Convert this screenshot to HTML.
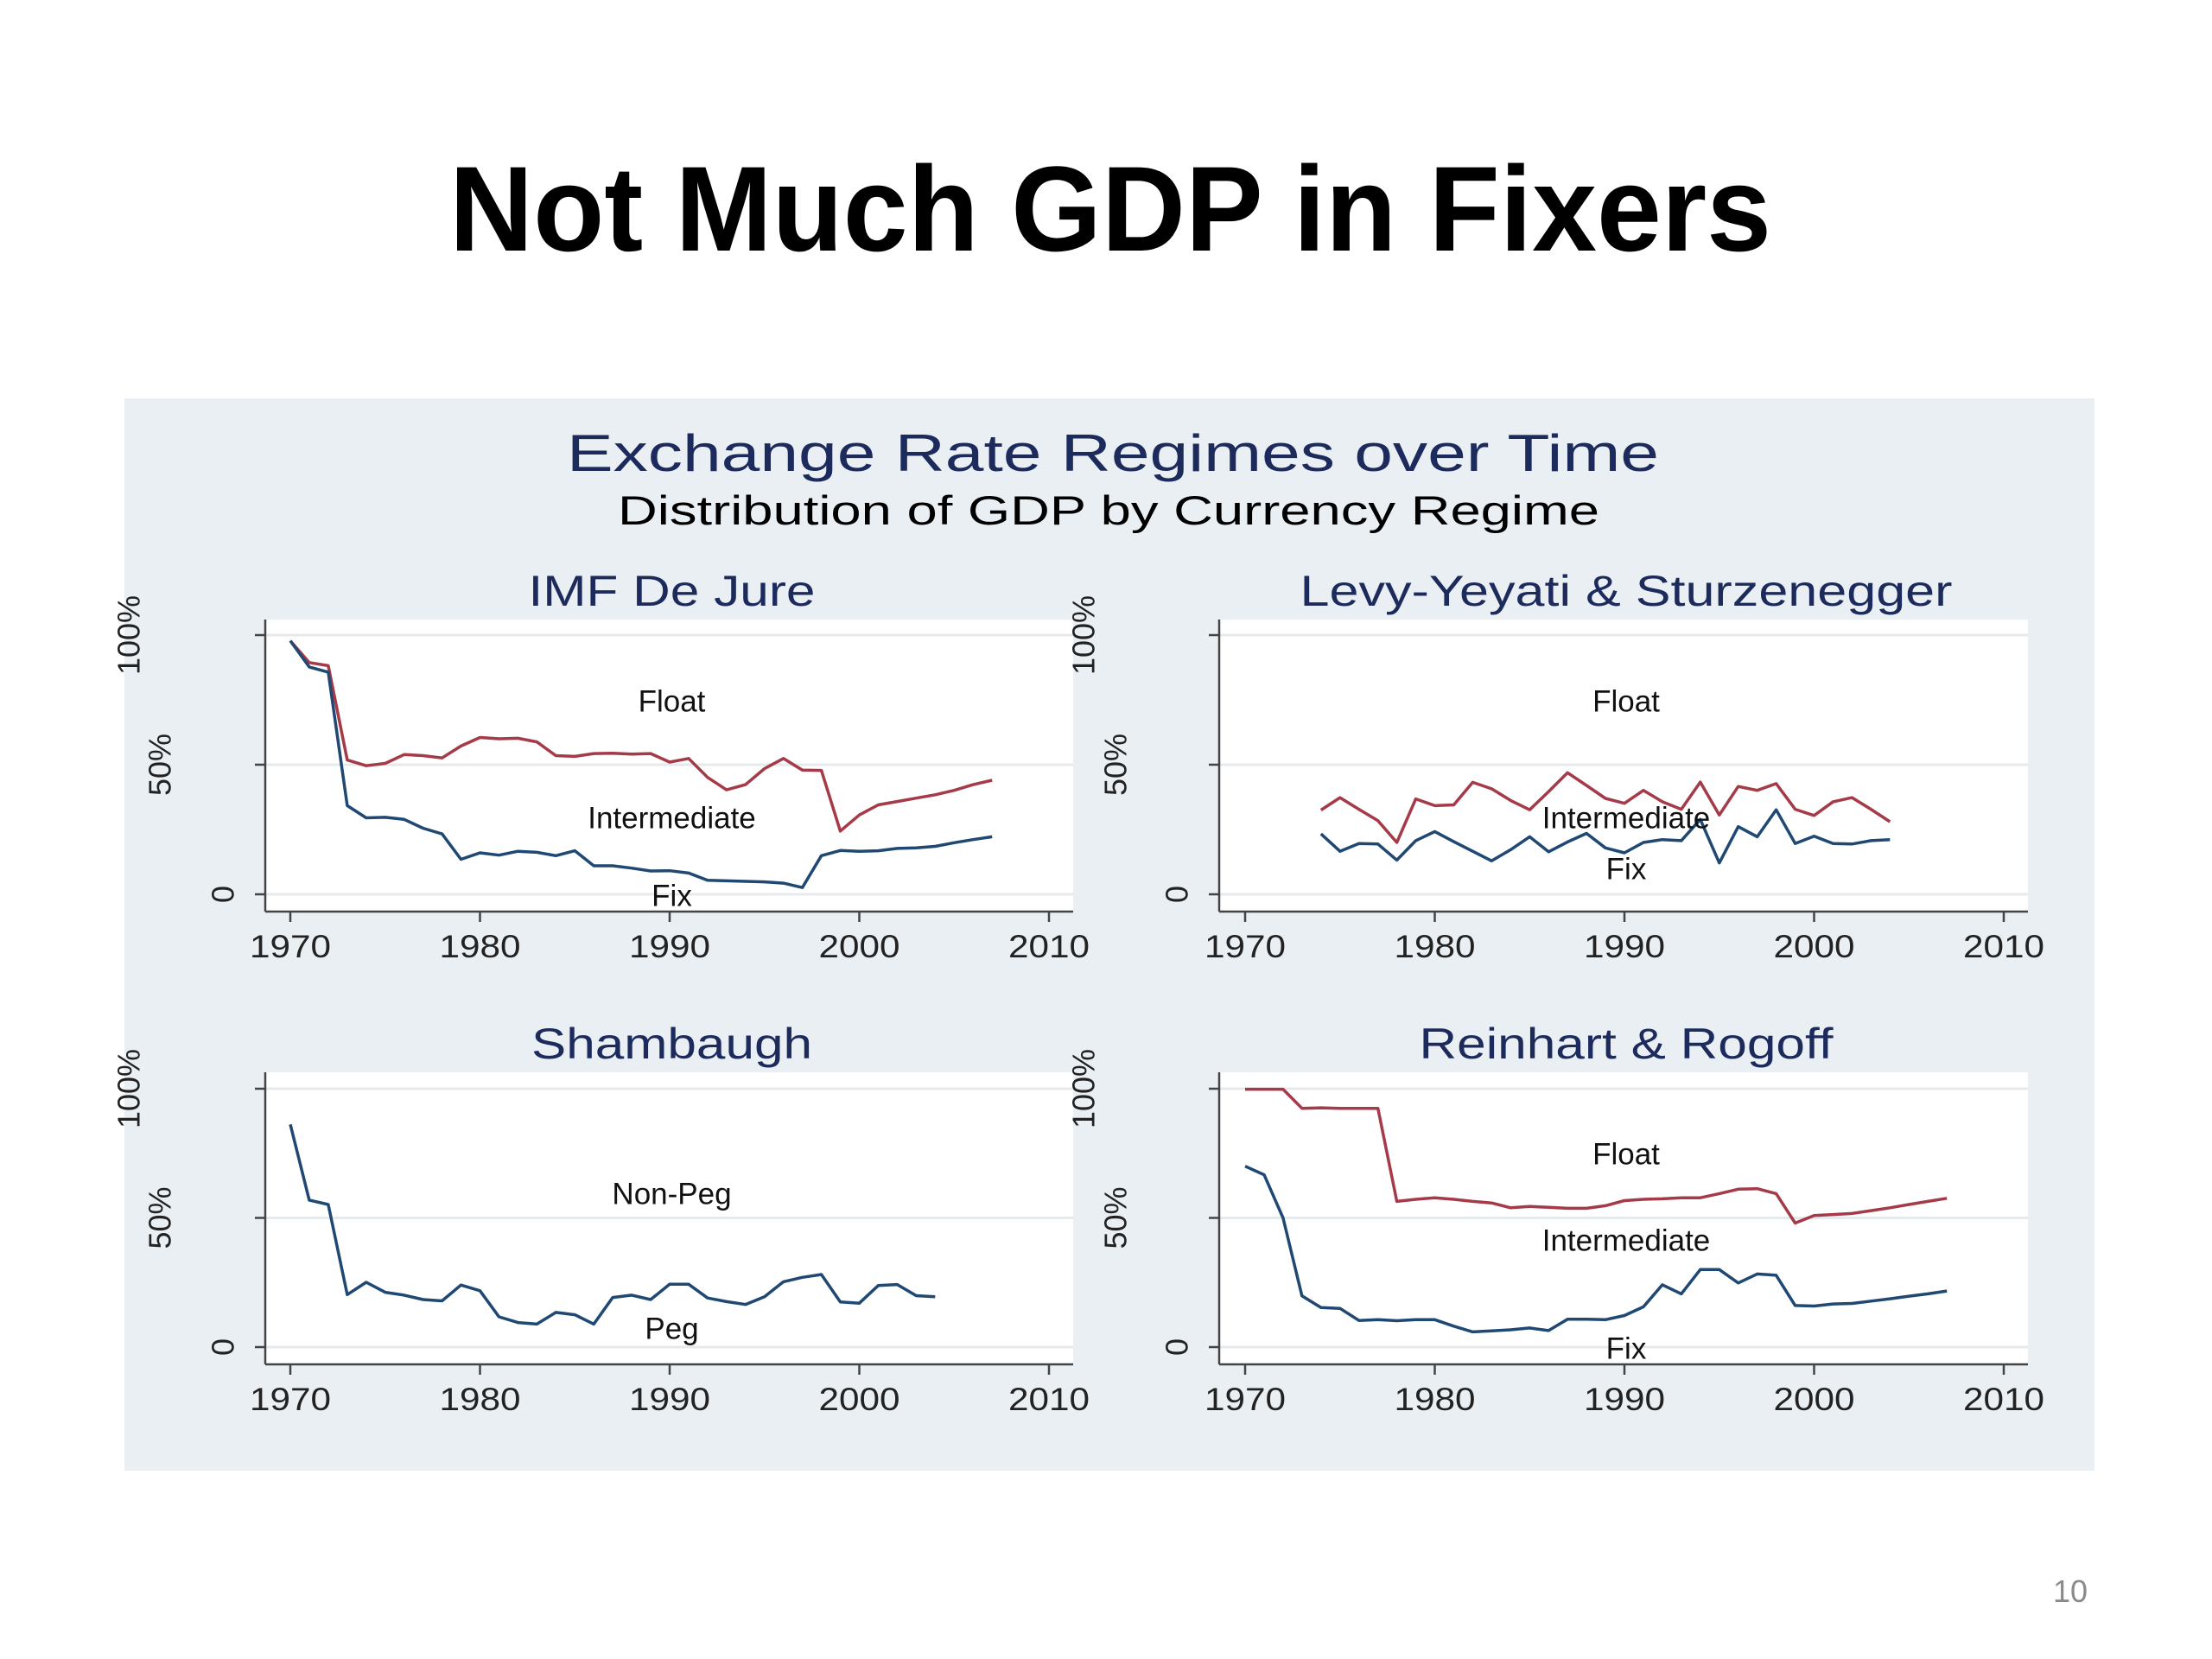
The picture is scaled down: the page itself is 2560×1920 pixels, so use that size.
<!DOCTYPE html>
<html><head><meta charset="utf-8"><style>
html,body{margin:0;padding:0;background:#fff;}
svg{display:block;}
text{font-family:"Liberation Sans",sans-serif;}
</style></head><body>
<svg id="s" width="2560" height="1920" viewBox="0 0 2560 1920" xmlns="http://www.w3.org/2000/svg">
<text x="1285" y="290" text-anchor="middle" font-size="140" font-weight="bold" textLength="1530" lengthAdjust="spacingAndGlyphs" fill="#000">Not Much GDP in Fixers</text>
<rect x="144" y="461" width="2280" height="1241" fill="#e9eff3"/>
<text x="1288" y="545" text-anchor="middle" font-size="60" textLength="1264" lengthAdjust="spacingAndGlyphs" fill="#1c2b5c">Exchange Rate Regimes over Time</text>
<text x="1283" y="607" text-anchor="middle" font-size="47" textLength="1136" lengthAdjust="spacingAndGlyphs" fill="#000">Distribution of GDP by Currency Regime</text>
<text x="2396" y="1854" text-anchor="middle" font-size="36" fill="#8a8a8a">10</text>
<g id="panels"></g>
</svg>
<script>
const years1 = [1970,1971,1972,1973,1974,1975,1976,1977,1978,1979,1980,1981,1982,1983,1984,1985,1986,1987,1988,1989,1990,1991,1992,1993,1994,1995,1996,1997,1998,1999,2000,2001,2002,2003,2004,2005,2006,2007];
const imfFloatLine = [97.8,89.4,88.2,51.8,49.6,50.5,53.9,53.5,52.6,57.2,60.5,60.0,60.2,58.8,53.5,53.2,54.3,54.4,54.1,54.3,51.0,52.4,45.1,40.3,42.3,48.5,52.4,47.9,47.8,24.4,30.6,34.5,35.8,37.1,38.4,40.1,42.3,44.0];
const imfFixLine = [97.8,87.7,85.7,34.2,29.5,29.7,28.9,25.5,23.3,13.5,16.0,15.1,16.6,16.2,14.9,16.8,11.0,11.0,10.1,9.0,9.1,8.2,5.4,5.2,5.0,4.8,4.3,2.6,14.9,16.9,16.6,16.8,17.7,17.9,18.5,19.9,21.1,22.2];
const years2 = [1974,1975,1976,1977,1978,1979,1980,1981,1982,1983,1984,1985,1986,1987,1988,1989,1990,1991,1992,1993,1994,1995,1996,1997,1998,1999,2000,2001,2002,2003,2004];
const lysFloatLine = [32.5,37.3,32.8,28.4,20.0,36.8,34.2,34.5,43.2,40.7,36.2,32.6,39.6,46.9,42.0,37.0,35.1,40.1,35.7,32.8,43.3,30.6,41.6,40.1,42.7,32.8,30.4,35.7,37.3,32.8,28.0];
const lysFixLine = [23.3,16.6,19.6,19.4,13.2,20.7,24.2,20.3,16.6,12.9,17.2,22.2,16.4,20.2,23.5,17.9,16.0,20.0,21.1,20.7,28.9,12.1,26.1,22.2,32.6,19.6,22.4,19.6,19.4,20.7,21.1];
const years3 = [1970,1971,1972,1973,1974,1975,1976,1977,1978,1979,1980,1981,1982,1983,1984,1985,1986,1987,1988,1989,1990,1991,1992,1993,1994,1995,1996,1997,1998,1999,2000,2001,2002,2003,2004];
const shamPegLine = [86.2,56.9,55.2,20.3,25.1,21.2,20.1,18.4,17.9,24.0,21.8,11.7,9.5,8.9,13.4,12.5,8.9,19.2,20.1,18.4,24.3,24.3,19.0,17.6,16.5,19.5,25.3,27.0,28.1,17.5,17.0,23.8,24.2,19.9,19.5];
const rrFloatLine = [99.8,99.8,99.8,92.4,92.6,92.4,92.4,92.4,56.4,57.2,57.8,57.2,56.4,55.8,53.9,54.4,54.1,53.7,53.7,54.7,56.7,57.2,57.4,57.8,57.8,59.4,61.1,61.3,59.4,48.0,50.9,51.3,51.7,52.8,53.9,55.2,56.4,57.6];
const rrFixLine = [70.0,66.7,50.0,19.8,15.3,15.0,10.3,10.6,10.2,10.6,10.6,8.1,5.9,6.3,6.7,7.4,6.4,10.8,10.8,10.6,12.2,15.6,24.1,20.6,30.0,30.0,24.8,28.3,27.8,16.1,15.9,16.7,16.9,17.8,18.7,19.7,20.6,21.7];
const xTicks = [1970,1980,1990,2000,2010];
const yTicks = [0,50,100];
const yTickLabels = ["0","50%","100%"];

const NS="http://www.w3.org/2000/svg";
const root=document.getElementById('panels');
function mk(tag,attrs,parent){const e=document.createElementNS(NS,tag);for(const k in attrs)e.setAttribute(k,attrs[k]);(parent||root).appendChild(e);return e;}

const RED="#a53a48", BLUE="#1f4872";
const panels=[
 {name:"imf-de-jure",title:"IMF De Jure",tw:332,left:307,right:1242,x0:336,top:717,y0:1035,y100:735,axisY:1055,titleY:684,labX:[258,185,149],
  series:[{name:"float-boundary",x:years1,y:imfFloatLine,c:RED},{name:"fix-boundary",x:years1,y:imfFixLine,c:BLUE}],
  labels:[["Float",812,"float-label"],["Intermediate",947,"intermediate-label"],["Fix",1037,"fix-label"]]},
 {name:"levy-yeyati-sturzenegger",title:"Levy-Yeyati & Sturzenegger",tw:755,left:1411,right:2347,x0:1441,top:717,y0:1035,y100:735,axisY:1055,titleY:684,labX:[1362,1291,1254],
  series:[{name:"float-boundary",x:years2,y:lysFloatLine,c:RED},{name:"fix-boundary",x:years2,y:lysFixLine,c:BLUE}],
  labels:[["Float",812,"float-label"],["Intermediate",947,"intermediate-label"],["Fix",1006,"fix-label"]]},
 {name:"shambaugh",title:"Shambaugh",tw:325,left:307,right:1242,x0:336,top:1241,y0:1559,y100:1260,axisY:1579,titleY:1208,labX:[258,185,149],
  series:[{name:"peg-boundary",x:years3,y:shamPegLine,c:BLUE}],
  labels:[["Non-Peg",1382,"non-peg-label"],["Peg",1538,"peg-label"]]},
 {name:"reinhart-rogoff",title:"Reinhart & Rogoff",tw:479,left:1411,right:2347,x0:1441,top:1241,y0:1559,y100:1260,axisY:1579,titleY:1208,labX:[1362,1291,1254],
  series:[{name:"float-boundary",x:years1,y:rrFloatLine,c:RED},{name:"fix-boundary",x:years1,y:rrFixLine,c:BLUE}],
  labels:[["Float",1336,"float-label"],["Intermediate",1436,"intermediate-label"],["Fix",1561,"fix-label"]]}
];
const PXYR=21.95;
panels.forEach(p=>{
  const g=mk('g',{});
  
  
  const xs=v=>p.x0+(v-1970)*PXYR;
  const ys=v=>p.y0+(p.y100-p.y0)*v/100;
  const cx=(p.left+p.right)/2+8;
  const bg=mk('rect',{x:p.left,y:p.top,width:p.right-p.left,height:p.axisY-p.top,fill:"#fff"},g);
  
  
  const t=mk('text',{x:cx-5,y:p.titleY+17,'text-anchor':'middle','font-size':50,fill:"#1c2b5c",textLength:p.tw,lengthAdjust:"spacingAndGlyphs"},g);
  t.textContent=p.title;
  
  
  yTicks.forEach((v,i)=>{
    const gl=mk('line',{x1:p.left,x2:p.right,y1:ys(v),y2:ys(v),stroke:"#e6eaed","stroke-width":3},g);
    
    
    const tk=mk('line',{x1:p.left-12,x2:p.left,y1:ys(v),y2:ys(v),stroke:"#444","stroke-width":2.5},g);
    
    
    const lx=p.labX[i], ly=ys(v);
    const tl=mk('text',{x:lx,y:ly,'text-anchor':'middle','dominant-baseline':'central','font-size':36,fill:"#222",transform:`rotate(-90 ${lx} ${ly})`},g);
    tl.textContent=yTickLabels[i];
    
    
  });
  const ya=mk('line',{x1:p.left,x2:p.left,y1:p.top,y2:p.axisY,stroke:"#444","stroke-width":2.5},g);
  
  
  const xa=mk('line',{x1:p.left,x2:p.right,y1:p.axisY,y2:p.axisY,stroke:"#444","stroke-width":2.5},g);
  
  
  xTicks.forEach(v=>{
    const tk=mk('line',{x1:xs(v),x2:xs(v),y1:p.axisY,y2:p.axisY+12,stroke:"#444","stroke-width":2.5},g);
    
    
    const tl=mk('text',{x:xs(v),y:p.axisY+53,'text-anchor':'middle','font-size':37,fill:"#222",textLength:94,lengthAdjust:"spacingAndGlyphs"},g);
    tl.textContent=String(v);
    
    
  });
  p.series.forEach(s=>{
    const d=s.x.map((yr,i)=>(i?'L':'M')+xs(yr).toFixed(1)+','+ys(s.y[i]).toFixed(1)).join(' ');
    const pa=mk('path',{d:d,fill:'none',stroke:s.c,'stroke-width':3.5,'stroke-linejoin':'round'},g);
    
    
  });
  p.labels.forEach(l=>{
    const tl=mk('text',{x:(p.left+p.right)/2+3,y:l[1],'text-anchor':'middle','dominant-baseline':'central','font-size':35,fill:"#111"},g);
    tl.textContent=l[0];
    
    
  });
});
</script>
</body></html>
